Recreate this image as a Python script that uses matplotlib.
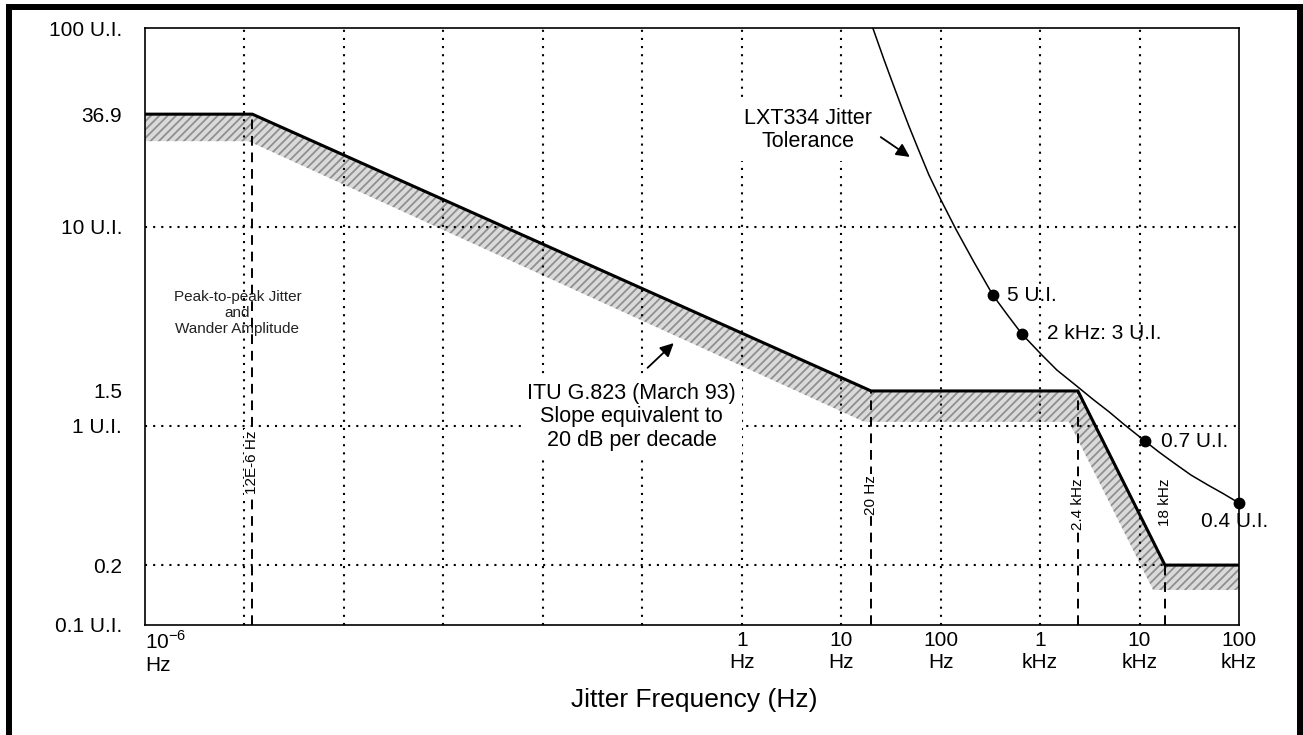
import numpy as np
import matplotlib
matplotlib.use("Agg")
import matplotlib.pyplot as plt
from matplotlib.patches import Rectangle

plt.rcParams['font.family'] = ['Liberation Sans', 'DejaVu Sans']
plt.rcParams['mathtext.fontset'] = 'custom'
plt.rcParams['mathtext.rm'] = 'Liberation Sans'
plt.rcParams['hatch.linewidth'] = 1.3

# ITU G.823 mask (upper edge) and the lower edge of the hatched band
mask_f = [1e-6, 12e-6, 20, 2400, 18000, 1e5]
mask_ui = [36.9, 36.9, 1.5, 1.5, 0.2, 0.2]
band_f = [1e-6, 11e-6, 17, 1950, 13700, 1e5]
band_ui = [27.0, 27.0, 1.05, 1.05, 0.15, 0.15]

# LXT334 tolerance curve
tol_f = [20.8, 23.9, 26.8, 31.5, 39.8, 47.9, 59.0, 76.1, 100.5, 142, 216,
         335, 463, 656, 1019, 1476, 2188, 3475, 4920, 6966, 11330, 15670,
         22190, 32890, 48750, 70630, 100000]
tol_ui = [100, 82.2, 69.9, 56.1, 41.0, 32.2, 24.9, 18.3, 13.7, 9.77, 6.67,
          4.55, 3.65, 2.90, 2.30, 1.91, 1.63, 1.35, 1.18, 1.02, 0.84, 0.74,
          0.652, 0.567, 0.505, 0.455, 0.41]

# marked points on the curve
pts_f = [335, 656, 11330, 100000]
pts_ui = [4.55, 2.90, 0.84, 0.41]
pts_txt = ['5 U.I.', '2 kHz: 3 U.I.', '0.7 U.I.', '0.4 U.I.']

# corner frequencies (dashed lines)
corner_f = [12e-6, 20, 2400, 18000]
corner_top = [36.9, 1.5, 1.5, 0.2]
corner_txt = ['12E-6 Hz', '20 Hz', '2.4 kHz', '18 kHz']
corner_txt_ui = [0.66, 0.45, 0.405, 0.415]

grid_f = [1e-5, 1e-4, 1e-3, 1e-2, 1e-1, 1, 10, 100, 1e3, 1e4]
grid_ui = [0.2, 1, 10]

yticks = [0.1, 0.2, 1, 1.5, 10, 36.9, 100]
ylabels = ['0.1 U.I.', '0.2', '1 U.I.', '1.5', '10 U.I.', '36.9', '100 U.I.']
xticks = [1e-6, 1, 10, 100, 1e3, 1e4, 1e5]
xlabels = ['10$^{\\mathregular{-6}}$\nHz', '1\nHz', '10\nHz', '100\nHz',
           '1\nkHz', '10\nkHz', '100\nkHz']

fig = plt.figure(figsize=(13.03, 7.35), dpi=100)
ax = fig.add_axes([145/1303, 1-625/735, 1094/1303, 597/735])
ax.set_xscale('log')
ax.set_yscale('log')
ax.set_xlim(1e-6, 1e5)
ax.set_ylim(0.1, 100)

# dotted grid
for f in grid_f:
    ax.axvline(f, color='k', lw=1.5, ls=(0, (1, 2.9)), zorder=1.5)
for u in grid_ui:
    ax.axhline(u, color='k', lw=1.5, ls=(0, (1, 2.9)), zorder=1.5)

# hatched band
ax.fill(mask_f + band_f[::-1], mask_ui + band_ui[::-1], facecolor='#dadada',
        edgecolor='#8f8f8f', hatch='////', lw=0, zorder=1)
ax.plot(mask_f, mask_ui, color='k', lw=2.2, zorder=3, solid_joinstyle='miter')

# corner dashed lines with rotated labels
ax.vlines(corner_f, 0.1, corner_top, colors='k', lw=1.4,
          linestyles=[(0, (5, 3.5))], zorder=2.5)
for f, u, t in zip(corner_f, corner_txt_ui, corner_txt):
    ax.text(f, u, t, rotation=90, ha='center', va='center', fontsize=11,
            zorder=4, bbox=dict(facecolor='white', edgecolor='none', pad=1))

# tolerance curve
ax.plot(tol_f, tol_ui, color='k', lw=1.1, zorder=3)
ax.plot(pts_f, pts_ui, 'o', color='k', ms=7.5, zorder=5, clip_on=False)
offsets = [(14, 0), (25, 0), (16, 0), (-4, -18)]
for f, u, t, off in zip(pts_f, pts_ui, pts_txt, offsets):
    ha = 'center' if off[1] < 0 else 'left'
    ax.annotate(t, (f, u), xytext=off, textcoords='offset pixels', ha=ha,
                va='center', fontsize=15, zorder=5, annotation_clip=False)

# annotations
ax.text(8.5e-6, 3.7, 'Peak-to-peak Jitter\nand\nWander Amplitude', fontsize=11,
        ha='center', va='center', color='#222222', zorder=2, linespacing=1.15)
ax.text(0.0782, 1.11, 'ITU G.823 (March 93)\nSlope equivalent to\n20 dB per decade',
        fontsize=15.5, ha='center', va='center', linespacing=1.15, zorder=4,
        bbox=dict(facecolor='white', edgecolor='none', pad=4))
ax.annotate('', xy=(0.207, 2.61), xytext=(0.113, 1.96),
            arrowprops=dict(arrowstyle='-|>', color='k', lw=1.3,
                            mutation_scale=20, shrinkA=0, shrinkB=0), zorder=5)
ax.text(4.61, 30.7, 'LXT334 Jitter\nTolerance', fontsize=15.5, ha='center',
        va='center', linespacing=1.15, zorder=4,
        bbox=dict(facecolor='white', edgecolor='none', pad=6))
ax.annotate('', xy=(49, 22.5), xytext=(25, 28.3),
            arrowprops=dict(arrowstyle='-|>', color='k', lw=1.3,
                            mutation_scale=20, shrinkA=0, shrinkB=0), zorder=5)

# axes
ax.set_yticks(yticks)
ax.set_yticklabels(ylabels)
ax.set_xticks(xticks)
ax.set_xticklabels(xlabels)
ax.minorticks_off()
ax.tick_params(axis='both', length=0, labelsize=15)
ax.tick_params(axis='y', pad=16.5)
ax.tick_params(axis='x', pad=4)
ax.get_xticklabels()[0].set_ha('left')
for s in ax.spines.values():
    s.set_linewidth(1.2)
ax.set_xlabel('Jitter Frequency (Hz)', fontsize=19)
ax.xaxis.set_label_coords(0.5018, -0.1256)
ax.xaxis.label.set_va('center')

# outer frame
fig.patches.append(Rectangle((8.5/1303, -2/735), (1300-8.5)/1303, (737-6.5)/735,
                             transform=fig.transFigure, fill=False,
                             edgecolor='k', lw=4.3, clip_on=False))

fig.savefig('out.png', dpi=100)
